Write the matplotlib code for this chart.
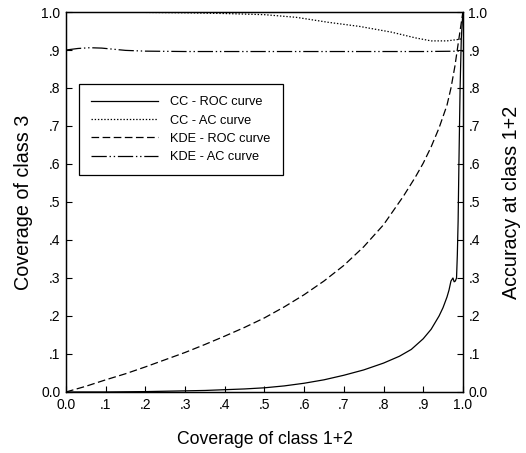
import matplotlib
matplotlib.use("Agg")
import matplotlib.pyplot as plt

plt.rcParams['font.family'] = ['Liberation Sans', 'DejaVu Sans']
plt.rcParams['lines.scale_dashes'] = False

# CC - ROC curve (coverage of class 3 vs coverage of class 1+2)
cc_roc_x = [0, .1, .2, .3, .35, .4, .45, .5, .55, .6, .65, .7, .75, .8, .84, .87, .9,
            .92, .94, .95, .96, .965, .97, .975, .978, .981, .984, .986, .988, .99,
            .993, .996, 1.0]
cc_roc_y = [0, 0, .001, .003, .004, .006, .008, .011, .016, .023, .032, .044, .058,
            .076, .094, .112, .140, .165, .200, .222, .250, .268, .292, .300, .290,
            .292, .300, .36, .45, .6, .8, .93, 1.0]

# KDE - ROC curve
kde_roc_x = [0, .05, .1, .15, .2, .25, .3, .35, .4, .45, .5, .55, .6, .65, .7, .75,
             .8, .85, .88, .9, .92, .94, .96, .97, .98, .99, 1.0]
kde_roc_y = [0, .015, .032, .048, .066, .085, .104, .125, .147, .17, .195, .224, .256,
             .292, .333, .382, .44, .515, .565, .602, .645, .695, .755, .80, .858,
             .93, 1.0]

# CC - AC curve (accuracy at class 1+2, right axis)
cc_ac_x = [0, .1, .2, .3, .4, .5, .58, .66, .74, .82, .88, .92, .96, .99, 1.0]
cc_ac_y = [1.0, 1.0, .999, .998, .996, .993, .986, .973, .962, .947, .932, .924,
           .924, .928, .93]

# KDE - AC curve
kde_ac_x = [0, .03, .06, .09, .12, .15, .2, .3, .5, .7, .9, 1.0]
kde_ac_y = [.9, .904, .906, .905, .902, .899, .897, .896, .896, .896, .896, .897]

ticks = [0, .1, .2, .3, .4, .5, .6, .7, .8, .9, 1.0]
tick_labels = ['0.0', '.1', '.2', '.3', '.4', '.5', '.6', '.7', '.8', '.9', '1.0']

fig = plt.figure(figsize=(5.26, 4.53), dpi=100)
ax = fig.add_axes([0.1255, 0.1347, 0.7545, 0.8388])
ax2 = ax.twinx()

lw = 0.9
l1, = ax.plot(cc_roc_x, cc_roc_y, color='black', lw=lw, ls='-', label='CC - ROC curve')
l2, = ax2.plot(cc_ac_x, cc_ac_y, color='black', lw=lw, ls=(0, (1, 1.3)), label='CC - AC curve')
l3, = ax.plot(kde_roc_x, kde_roc_y, color='black', lw=lw, ls=(0, (5.5, 2.5)), label='KDE - ROC curve')
l4, = ax2.plot(kde_ac_x, kde_ac_y, color='black', lw=lw, ls=(0, (11, 2, 1, 2, 1, 2)),
               label='KDE - AC curve')

for a in (ax, ax2):
    a.set_xlim(0, 1)
    a.set_ylim(0, 1)
    a.set_yticks(ticks)
    a.set_yticklabels(tick_labels)
    a.tick_params(direction='in', length=4, width=0.8, labelsize=10, pad=4)
    for s in a.spines.values():
        s.set_linewidth(0.9)
ax.set_xticks(ticks)
ax.set_xticklabels(tick_labels)

ax.set_xlabel('Coverage of class 1+2', fontsize=12.7, labelpad=14)
ax.set_ylabel('Coverage of class 3', fontsize=14.2, labelpad=6)
ax2.set_ylabel('Accuracy at class 1+2', fontsize=14.2, labelpad=10)

leg = ax.legend(handles=[l1, l2, l3, l4], loc='upper left', bbox_to_anchor=(0.0327, 0.8105),
                borderaxespad=0, fontsize=9.2, handlelength=5.2, handletextpad=1.0,
                labelspacing=0.5, borderpad=0.95, fancybox=False, edgecolor='black',
                framealpha=1)
leg.get_frame().set_linewidth(0.9)

fig.savefig('out.png', dpi=100)
